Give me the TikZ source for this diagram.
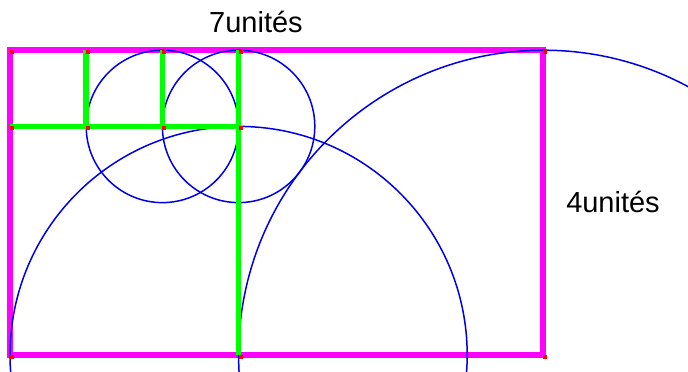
\documentclass[tikz,border=0pt]{standalone}
\usepackage{fontspec}
\setmainfont{Liberation Sans}
\definecolor{mag}{RGB}{255,0,255}
\definecolor{grn}{RGB}{0,255,0}
\definecolor{blu}{RGB}{0,0,230}
\begin{document}
\begin{tikzpicture}[x=1pt,y=-1pt,
  magline/.style={draw=mag,line width=6pt},
  grnline/.style={draw=grn,line width=5.5pt},
  bluecirc/.style={draw=blu,line width=1.5pt},
  reddot/.style={fill=red},
  lbl/.style={font=\fontsize{29}{29}\selectfont,anchor=base,inner sep=0pt}]
\useasboundingbox (0,0) rectangle (688,372);
\clip (0,0) rectangle (688,372);
% grid points
\coordinate (A) at (10,355);
\coordinate (B) at (238.6,355);
\coordinate (C) at (543.4,355);
\coordinate (D) at (543.4,50.2);
\coordinate (E) at (10,50.2);
\coordinate (F) at (86.2,50.2);
\coordinate (G) at (162.4,50.2);
\coordinate (H) at (238.6,50.2);
\coordinate (I) at (10,126.4);
\coordinate (J) at (86.2,126.4);
\coordinate (K) at (162.4,126.4);
\coordinate (L) at (238.6,126.4);
% rectangle
\draw[magline] (A) -- (C) -- (D) -- (E) -- cycle;
% circles
\draw[bluecirc] (K) circle (76.2);
\draw[bluecirc] (L) circle (76.2);
\draw[bluecirc] (B) circle (228.6);
\draw[bluecirc] (C) circle (304.8);
% green lines
\draw[grnline] (I) -- (L);
\draw[grnline] (H) -- (B);
\draw[grnline] (F) -- (J);
\draw[grnline] (G) -- (K);
% red dots
\foreach \p in {A,B,C,D,E,F,G,H,I,J,K,L}
  \fill[reddot] (\p) rectangle ++(4,4);
% labels
\node[lbl] (t7) at (256,32) {7unités};
\node[lbl] (t4) at (613,212) {4unités};
\end{tikzpicture}
\end{document}
